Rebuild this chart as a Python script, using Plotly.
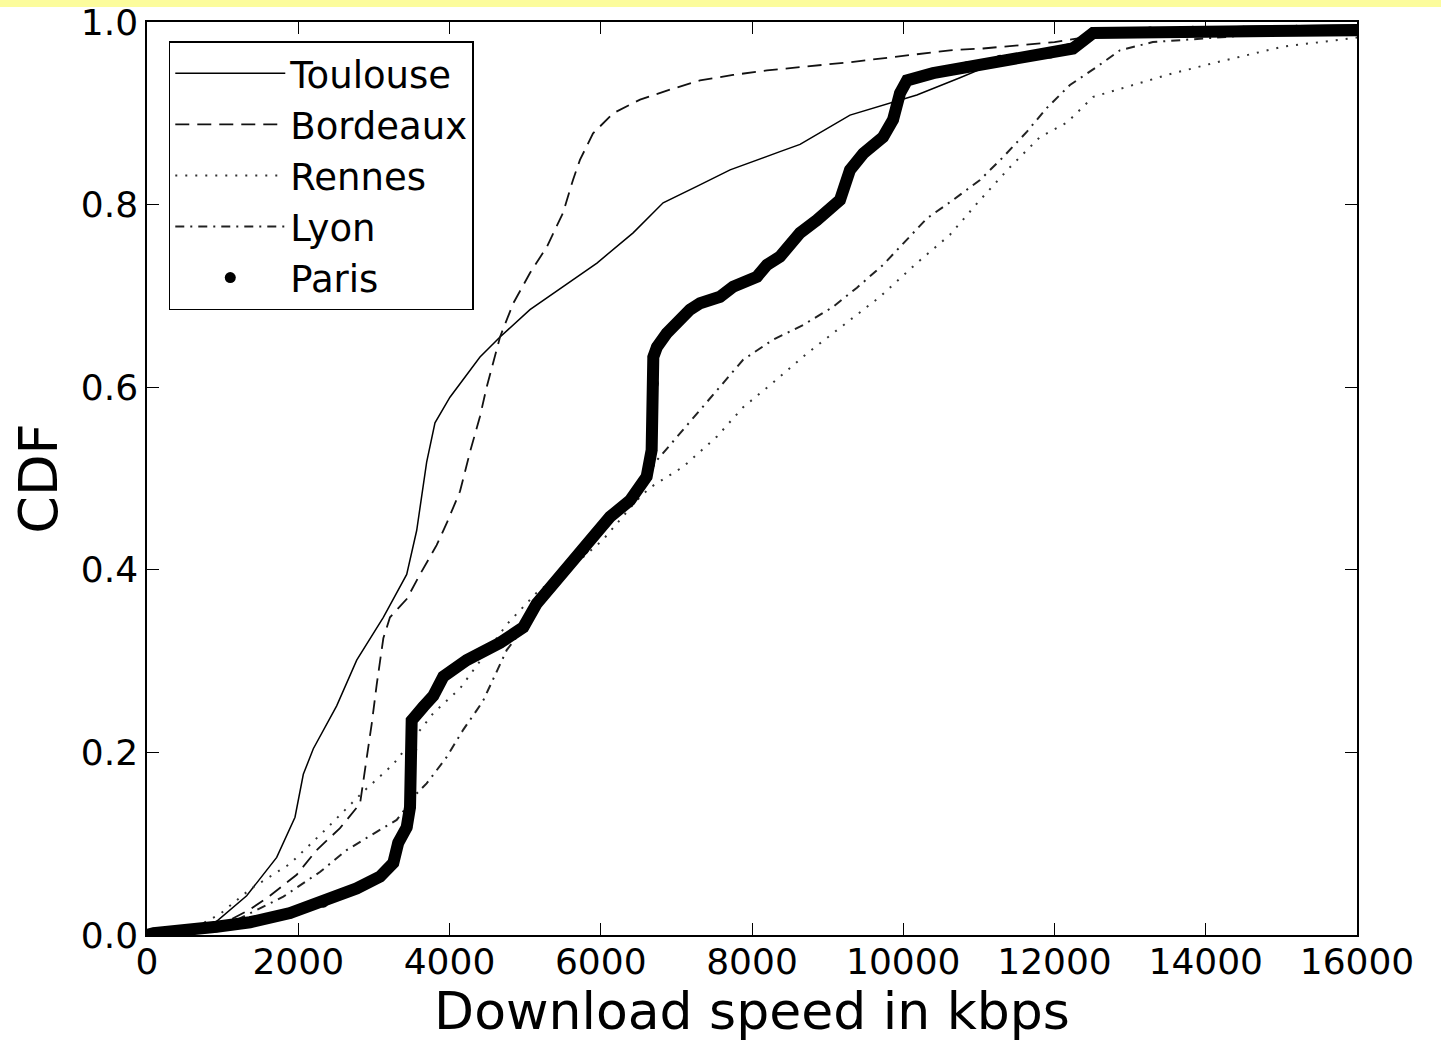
import plotly.graph_objects as go

# ---------------- data ----------------
toulouse_x = [0, 500, 921, 1318, 1715, 1957, 2067, 2199, 2508, 2773, 3125, 3434, 3566, 3654, 3698,
              3808, 4006, 4403, 4668, 5064, 5501, 5950, 6428, 6825, 7271, 7710, 8370, 8635, 9296,
              9865, 10180, 10750, 11300, 11800, 12300, 12600, 13500, 14500, 16000]
toulouse_y = [0, 0.003, 0.015, 0.043, 0.085, 0.129, 0.176, 0.204, 0.251, 0.301, 0.348, 0.395, 0.443,
              0.490, 0.518, 0.561, 0.589, 0.633, 0.655, 0.685, 0.710, 0.736, 0.769, 0.802, 0.820,
              0.838, 0.858, 0.866, 0.898, 0.912, 0.920, 0.939, 0.958, 0.968, 0.978, 0.988, 0.992,
              0.995, 0.997]

bordeaux_x = [0, 500, 900, 1362, 1626, 1979, 2243, 2552, 2817, 2905, 2971, 3037, 3125, 3213, 3434,
              3610, 3830, 3963, 4139, 4271, 4403, 4491, 4668, 4844, 5064, 5289, 5501, 5633, 5725,
              5898, 6163, 6520, 6916, 7313, 7750, 8198, 9300, 10618, 11055, 12000, 12600, 14000, 16000]
bordeaux_y = [0, 0.002, 0.008, 0.028, 0.043, 0.066, 0.093, 0.117, 0.144, 0.191, 0.231, 0.274, 0.325,
              0.348, 0.368, 0.395, 0.427, 0.451, 0.486, 0.529, 0.568, 0.600, 0.655, 0.692, 0.725,
              0.754, 0.791, 0.827, 0.849, 0.878, 0.900, 0.915, 0.926, 0.936, 0.942, 0.947, 0.956,
              0.969, 0.971, 0.978, 0.986, 0.990, 0.993]

rennes_x = [0, 500, 965, 1362, 1891, 2331, 2860, 3257, 3522, 3786, 4139, 4447, 4756, 5153, 5770,
            6030, 6475, 6651, 7092, 7537, 7882, 8278, 8727, 9163, 9692, 10180, 10618, 11015, 11411,
            11808, 12165, 12512, 13040, 13487, 14148, 15024, 15907, 16000]
rennes_y = [0, 0.002, 0.023, 0.050, 0.078, 0.113, 0.157, 0.187, 0.215, 0.243, 0.270, 0.305, 0.340,
            0.375, 0.414, 0.433, 0.476, 0.490, 0.513, 0.546, 0.578, 0.605, 0.637, 0.665, 0.699,
            0.736, 0.767, 0.805, 0.841, 0.874, 0.890, 0.918, 0.931, 0.942, 0.956, 0.973, 0.982, 0.983]

lyon_x = [0, 500, 1005, 1362, 1803, 2287, 2640, 3037, 3302, 3566, 3698, 3963, 4183, 4359, 4447,
          4756, 5200, 5700, 6200, 6500, 6743, 7313, 7882, 8278, 8674, 9071, 9388, 9733, 10314,
          10658, 11015, 11320, 11636, 11900, 12204, 12562, 12866, 13300, 14500, 16000]
lyon_y = [0, 0.002, 0.009, 0.024, 0.042, 0.069, 0.093, 0.113, 0.126, 0.155, 0.166, 0.195, 0.225,
          0.246, 0.257, 0.312, 0.360, 0.410, 0.460, 0.485, 0.520, 0.575, 0.630, 0.652, 0.668,
          0.688, 0.709, 0.734, 0.785, 0.805, 0.827, 0.852, 0.880, 0.906, 0.931, 0.951, 0.969,
          0.978, 0.985, 0.990]

paris_x = [0, 88, 920, 1362, 1891, 2331, 2772, 3081, 3257, 3322, 3434, 3478, 3500, 3500, 3654,
           3786, 3918, 4227, 4668, 4976, 5153, 5418, 5770, 6122, 6387, 6607, 6673, 6695, 6695,
           6743, 6872, 7180, 7313, 7577, 7750, 8066, 8198, 8370, 8635, 8859, 9163, 9296, 9472,
           9733, 9865, 9957, 10050, 10394, 10843, 11280, 11940, 12244, 12510, 13263, 13830,
           14500, 15200, 16000]
paris_y = [0, 0.002, 0.009, 0.014, 0.024, 0.036, 0.051, 0.064, 0.079, 0.101, 0.118, 0.140, 0.203,
           0.235, 0.250, 0.262, 0.283, 0.301, 0.320, 0.337, 0.363, 0.389, 0.422, 0.458, 0.476,
           0.502, 0.531, 0.604, 0.633, 0.644, 0.659, 0.685, 0.692, 0.699, 0.710, 0.721, 0.734,
           0.743, 0.769, 0.783, 0.805, 0.838, 0.856, 0.874, 0.893, 0.922, 0.936, 0.944, 0.951,
           0.958, 0.966, 0.971, 0.988, 0.989, 0.990, 0.990, 0.991, 0.991]

x_ticks = [0, 2000, 4000, 6000, 8000, 10000, 12000, 14000, 16000]
y_ticks = [0.0, 0.2, 0.4, 0.6, 0.8, 1.0]

FONT = "DejaVu Sans"

fig = go.Figure()

fig.add_trace(go.Scatter(x=toulouse_x, y=toulouse_y, mode="lines", name="Toulouse",
                         line=dict(color="black", width=1.5)))
fig.add_trace(go.Scatter(x=bordeaux_x, y=bordeaux_y, mode="lines", name="Bordeaux",
                         line=dict(color="#111111", width=1.8, dash="14px,8px")))
fig.add_trace(go.Scatter(x=rennes_x, y=rennes_y, mode="lines", name="Rennes",
                         line=dict(color="#333333", width=2, dash="2px,8px")))
fig.add_trace(go.Scatter(x=lyon_x, y=lyon_y, mode="lines", name="Lyon",
                         line=dict(color="#222222", width=2, dash="9px,6px,2px,6px")))
fig.add_trace(go.Scatter(x=paris_x, y=paris_y, mode="lines", name="Paris", showlegend=False,
                         legendgroup="paris", line=dict(color="black", width=12)))
fig.add_trace(go.Scatter(x=paris_x, y=paris_y, mode="markers", name="Paris",
                         legendgroup="paris", marker=dict(color="black", size=11)))

axis_common = dict(
    showline=True, linecolor="black", linewidth=1.5, mirror="allticks",
    ticks="inside", ticklen=12, tickwidth=1.3, tickcolor="black",
    showgrid=False, zeroline=False, automargin=False,
    tickfont=dict(family=FONT, size=36, color="black"),
)

fig.update_layout(
    width=1441, height=1041,
    margin=dict(l=147, r=84, t=22, b=106),
    paper_bgcolor="white", plot_bgcolor="white",
    font=dict(family=FONT, color="black"),
    xaxis=dict(range=[0, 16000], tickvals=x_ticks, ticktext=[str(v) for v in x_ticks],
               ticklabelstandoff=-6,
               title=dict(text="Download speed in kbps", font=dict(family=FONT, size=52), standoff=6),
               **axis_common),
    yaxis=dict(range=[0, 1], tickvals=y_ticks, ticktext=[f"{v:.1f}" for v in y_ticks],
               title=dict(text="CDF", font=dict(family=FONT, size=54), standoff=6),
               **axis_common),
    legend=dict(x=0.018, y=0.979, xanchor="left", yanchor="top",
                bgcolor="white", bordercolor="black", borderwidth=1.5,
                font=dict(family=FONT, size=37, color="black"),
                itemwidth=110, tracegroupgap=0),
    shapes=[dict(type="rect", xref="paper", yref="paper", x0=-0.2, x1=1.1,
                 y0=(913 + 15) / 913, y1=(913 + 23) / 913,
                 fillcolor="#FCFC9C", line=dict(width=0), layer="above")],
)

fig.write_html("out.html")
